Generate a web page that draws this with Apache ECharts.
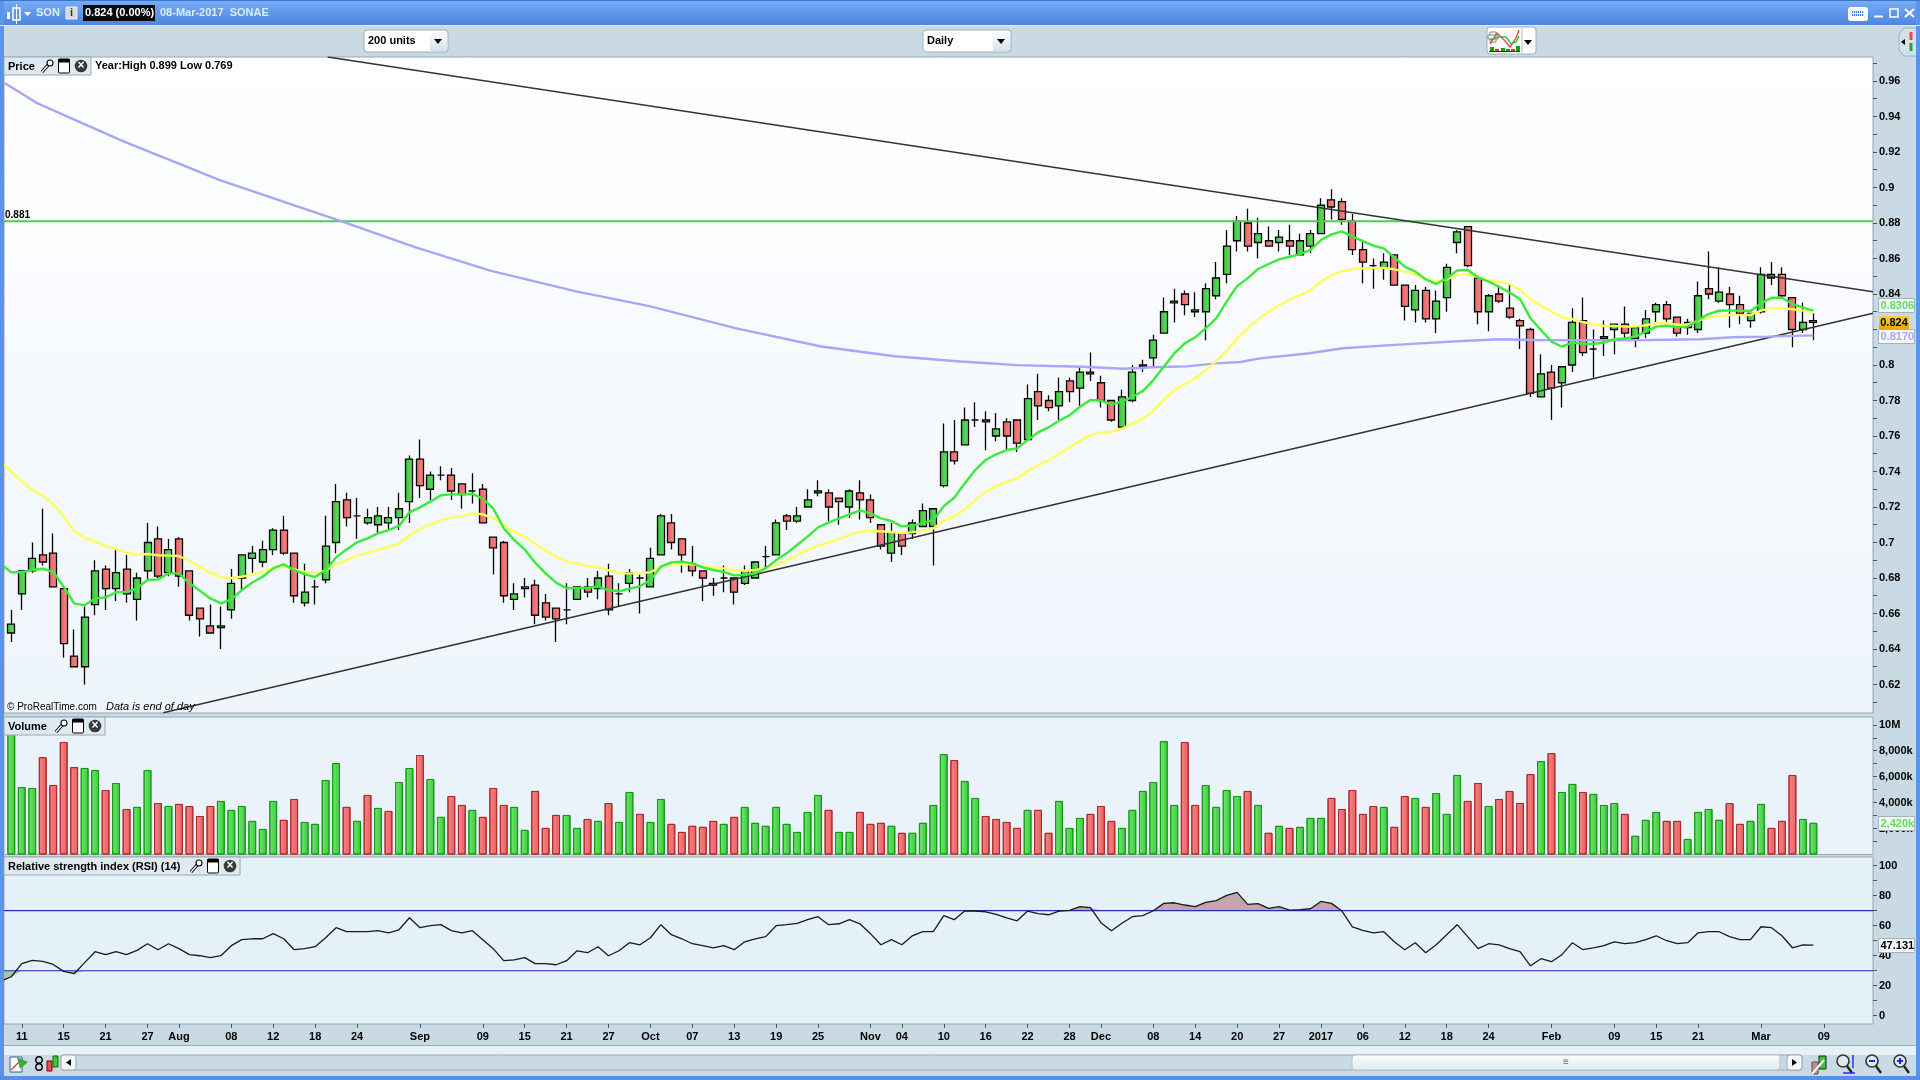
<!DOCTYPE html>
<html><head><meta charset="utf-8"><title>SON SONAE</title>
<style>html,body{margin:0;padding:0;background:#c9dae4}#c{width:1920px;height:1080px}</style>
<script src="https://cdn.jsdelivr.net/npm/echarts@6/dist/echarts.min.js"></script></head>
<body><div id="c"></div>
<script>
const tickIndex=[1,5,9,13,16,21,25,29,33,39,45,49,53,57,61,65,69,73,77,82,85,89,93,97,101,104,109,113,117,121,125,129,133,137,141,147,153,157,161,167,173];
const tickLabels=['11','15','21','27','Aug','08','12','18','24','Sep','09','15','21','27','Oct','07','13','19','25','Nov','04','10','16','22','28','Dec','08','14','20','27','2017','06','12','18','24','Feb','09','15','21','Mar','09'];
const open=[0.649,0.671,0.684,0.693,0.694,0.674,0.636,0.630,0.665,0.685,
0.674,0.685,0.668,0.684,0.702,0.683,0.702,0.684,0.663,0.653,
0.652,0.662,0.680,0.691,0.689,0.696,0.707,0.694,0.666,0.675,
0.679,0.700,0.724,0.715,0.711,0.710,0.711,0.714,0.723,0.747,
0.730,0.738,0.738,0.733,0.729,0.730,0.703,0.700,0.668,0.675,
0.676,0.666,0.663,0.662,0.668,0.675,0.674,0.681,0.671,0.677,
0.680,0.675,0.693,0.711,0.702,0.688,0.684,0.677,0.680,0.680,
0.677,0.680,0.692,0.693,0.715,0.712,0.720,0.728,0.728,0.725,
0.720,0.728,0.724,0.710,0.694,0.705,0.705,0.709,0.709,0.732,
0.751,0.755,0.769,0.769,0.760,0.768,0.769,0.758,0.785,0.780,
0.777,0.791,0.787,0.796,0.790,0.780,0.765,0.780,0.800,0.804,
0.818,0.835,0.840,0.830,0.830,0.839,0.851,0.870,0.880,0.869,
0.870,0.869,0.870,0.862,0.867,0.874,0.893,0.892,0.881,0.865,
0.856,0.855,0.862,0.845,0.831,0.842,0.826,0.838,0.869,0.878,
0.849,0.830,0.840,0.832,0.825,0.820,0.782,0.796,0.790,0.800,
0.825,0.809,0.816,0.820,0.823,0.815,0.818,0.830,0.834,0.827,
0.821,0.820,0.843,0.836,0.840,0.834,0.825,0.830,0.851,0.851,
0.838,0.820,0.825];
const close=[0.654,0.684,0.691,0.689,0.675,0.643,0.630,0.658,0.684,0.674,
0.683,0.671,0.680,0.700,0.681,0.696,0.681,0.659,0.657,0.649,
0.653,0.677,0.693,0.694,0.696,0.707,0.694,0.670,0.672,0.675,
0.698,0.723,0.714,0.715,0.714,0.715,0.714,0.719,0.747,0.732,
0.738,0.738,0.729,0.727,0.729,0.711,0.697,0.670,0.671,0.674,
0.659,0.658,0.657,0.662,0.675,0.672,0.680,0.662,0.671,0.683,
0.680,0.691,0.715,0.700,0.693,0.684,0.680,0.676,0.680,0.672,
0.684,0.689,0.692,0.711,0.712,0.715,0.724,0.729,0.720,0.723,
0.729,0.724,0.714,0.698,0.706,0.698,0.711,0.718,0.719,0.751,
0.746,0.769,0.769,0.768,0.764,0.760,0.756,0.781,0.777,0.776,
0.785,0.785,0.796,0.795,0.780,0.769,0.782,0.796,0.799,0.814,
0.830,0.836,0.834,0.831,0.843,0.849,0.867,0.881,0.867,0.874,
0.867,0.872,0.867,0.870,0.874,0.890,0.889,0.882,0.865,0.858,
0.856,0.858,0.845,0.833,0.842,0.826,0.836,0.855,0.875,0.856,
0.830,0.839,0.836,0.827,0.822,0.784,0.795,0.787,0.799,0.824,
0.807,0.809,0.815,0.823,0.818,0.821,0.826,0.834,0.826,0.818,
0.824,0.839,0.840,0.841,0.834,0.829,0.829,0.851,0.849,0.839,
0.820,0.824,0.824];
const low=[0.644,0.662,0.683,0.687,0.675,0.635,0.630,0.620,0.659,0.662,
0.667,0.666,0.656,0.679,0.680,0.681,0.675,0.656,0.647,0.649,
0.640,0.657,0.673,0.683,0.686,0.693,0.693,0.666,0.664,0.665,
0.677,0.694,0.709,0.702,0.710,0.705,0.707,0.707,0.711,0.725,
0.724,0.735,0.724,0.719,0.722,0.711,0.682,0.666,0.662,0.669,
0.654,0.656,0.644,0.654,0.668,0.669,0.668,0.659,0.664,0.672,
0.660,0.675,0.693,0.696,0.683,0.681,0.667,0.670,0.672,0.665,
0.676,0.680,0.685,0.693,0.707,0.711,0.720,0.726,0.712,0.710,
0.714,0.713,0.711,0.696,0.689,0.693,0.702,0.709,0.687,0.731,
0.744,0.755,0.765,0.752,0.757,0.752,0.751,0.758,0.769,0.774,
0.769,0.779,0.777,0.791,0.776,0.768,0.764,0.779,0.796,0.799,
0.818,0.824,0.828,0.827,0.814,0.837,0.846,0.864,0.864,0.860,
0.867,0.864,0.862,0.862,0.863,0.874,0.882,0.879,0.862,0.846,
0.843,0.848,0.845,0.825,0.824,0.824,0.818,0.830,0.863,0.855,
0.823,0.819,0.835,0.826,0.809,0.782,0.782,0.769,0.776,0.796,
0.805,0.793,0.805,0.806,0.815,0.810,0.815,0.824,0.824,0.816,
0.817,0.818,0.837,0.835,0.821,0.823,0.821,0.829,0.845,0.838,
0.810,0.818,0.814];
const high=[0.662,0.684,0.700,0.719,0.705,0.674,0.651,0.664,0.690,0.687,
0.696,0.693,0.683,0.711,0.709,0.702,0.703,0.684,0.663,0.665,
0.664,0.685,0.693,0.698,0.701,0.708,0.715,0.694,0.688,0.679,
0.715,0.733,0.728,0.725,0.719,0.720,0.720,0.728,0.749,0.758,
0.740,0.743,0.742,0.733,0.739,0.733,0.703,0.701,0.677,0.680,
0.679,0.671,0.663,0.677,0.675,0.680,0.684,0.688,0.677,0.685,
0.682,0.697,0.716,0.716,0.702,0.698,0.684,0.680,0.687,0.680,
0.687,0.689,0.698,0.713,0.716,0.720,0.730,0.735,0.730,0.725,
0.730,0.735,0.727,0.710,0.711,0.705,0.713,0.722,0.719,0.767,
0.769,0.776,0.779,0.774,0.773,0.770,0.769,0.789,0.795,0.783,
0.793,0.793,0.799,0.807,0.794,0.780,0.786,0.800,0.803,0.817,
0.838,0.843,0.842,0.841,0.846,0.858,0.876,0.884,0.888,0.883,
0.878,0.876,0.879,0.874,0.876,0.894,0.899,0.894,0.885,0.870,
0.860,0.863,0.862,0.845,0.845,0.844,0.842,0.857,0.876,0.878,
0.850,0.840,0.845,0.845,0.826,0.821,0.806,0.800,0.799,0.832,
0.838,0.820,0.825,0.823,0.833,0.821,0.831,0.835,0.836,0.827,
0.826,0.847,0.864,0.855,0.844,0.839,0.829,0.855,0.858,0.855,
0.838,0.835,0.829];
// moving averages and RSI: first entry is the point just left of the first bar
const maFast=[0.6879,0.6832,0.6832,0.6845,0.6852,0.6835,0.6751,0.6657,0.6646,0.6685,0.6691,0.6719,0.6721,0.6742,0.6789,0.6792,0.6826,0.6826,0.6770,0.6728,0.6685,0.6657,0.6680,0.6732,0.6775,0.6807,0.6854,0.6877,0.6845,0.6822,0.6805,0.6845,0.6916,0.6961,0.7001,0.7023,0.7051,0.7070,0.7093,0.7170,0.7198,0.7230,0.7266,0.7271,0.7271,0.7275,0.7247,0.7192,0.7080,0.7014,0.6961,0.6886,0.6826,0.6774,0.6742,0.6743,0.6745,0.6751,0.6732,0.6725,0.6740,0.6753,0.6789,0.6864,0.6888,0.6892,0.6882,0.6860,0.6845,0.6834,0.6815,0.6817,0.6826,0.6854,0.6901,0.6939,0.6986,0.7033,0.7085,0.7112,0.7136,0.7159,0.7181,0.7164,0.7136,0.7121,0.7091,0.7095,0.7108,0.7127,0.7205,0.7252,0.7333,0.7408,0.7465,0.7497,0.7521,0.7530,0.7577,0.7620,0.7649,0.7686,0.7716,0.7765,0.7803,0.7799,0.7778,0.7793,0.7821,0.7853,0.7915,0.7990,0.8065,0.8122,0.8156,0.8206,0.8263,0.8357,0.8445,0.8488,0.8541,0.8569,0.8595,0.8610,0.8625,0.8648,0.8704,0.8736,0.8753,0.8723,0.8698,0.8672,0.8657,0.8606,0.8554,0.8526,0.8483,0.8456,0.8488,0.8532,0.8535,0.8494,0.8470,0.8441,0.8408,0.8372,0.8263,0.8197,0.8132,0.8103,0.8128,0.8118,0.8118,0.8126,0.8145,0.8150,0.8160,0.8188,0.8216,0.8222,0.8212,0.8216,0.8254,0.8287,0.8306,0.8308,0.8306,0.8304,0.8347,0.8379,0.8379,0.8344,0.8323,0.8306];
const maSlow=[0.7455,0.7399,0.7343,0.7299,0.7262,0.7217,0.7145,0.7065,0.7027,0.7005,0.6982,0.6963,0.6944,0.6931,0.6935,0.6928,0.6926,0.6924,0.6896,0.6864,0.6830,0.6805,0.6800,0.6807,0.6819,0.6836,0.6858,0.6864,0.6849,0.6836,0.6832,0.6841,0.6877,0.6901,0.6924,0.6943,0.6958,0.6976,0.6993,0.7042,0.7074,0.7102,0.7125,0.7140,0.7149,0.7164,0.7159,0.7136,0.7098,0.7061,0.7033,0.6991,0.6954,0.6920,0.6894,0.6881,0.6866,0.6860,0.6843,0.6826,0.6826,0.6826,0.6832,0.6864,0.6877,0.6879,0.6877,0.6867,0.6860,0.6854,0.6845,0.6841,0.6845,0.6854,0.6873,0.6899,0.6929,0.6958,0.6982,0.6999,0.7020,0.7042,0.7061,0.7065,0.7063,0.7059,0.7053,0.7057,0.7068,0.7080,0.7121,0.7149,0.7187,0.7239,0.7286,0.7318,0.7343,0.7361,0.7403,0.7435,0.7465,0.7498,0.7536,0.7574,0.7605,0.7620,0.7624,0.7641,0.7671,0.7699,0.7743,0.7803,0.7859,0.7893,0.7925,0.7972,0.8022,0.8080,0.8150,0.8206,0.8257,0.8300,0.8338,0.8366,0.8394,0.8422,0.8469,0.8507,0.8529,0.8541,0.8544,0.8546,0.8548,0.8539,0.8526,0.8511,0.8483,0.8470,0.8483,0.8507,0.8513,0.8494,0.8479,0.8470,0.8456,0.8423,0.8370,0.8334,0.8301,0.8269,0.8259,0.8242,0.8229,0.8220,0.8220,0.8216,0.8216,0.8224,0.8235,0.8235,0.8227,0.8227,0.8250,0.8269,0.8276,0.8282,0.8282,0.8282,0.8306,0.8321,0.8321,0.8314,0.8306,0.8299];
const maLongIdx=[-0.6,2.4,10.6,19.9,31.6,38.6,45.7,53.9,60.9,69.1,77.3,84.3,90.6,92.9,96,99.1,102.3,106.1,109,112.2,115,117.3,119.2,123.9,127.1,130.9,134.5,138.9,142.1,145.3,151.6,156.4,161.2,164.3,167.6,172];
const maLongVal=[0.9587,0.9477,0.9263,0.9042,0.8808,0.8663,0.8532,0.8415,0.8332,0.8208,0.8104,0.8049,0.8020,0.8011,0.7999,0.7994,0.7990,0.7979,0.7987,0.7992,0.8009,0.8017,0.8037,0.8066,0.8094,0.8109,0.8122,0.8137,0.8145,0.8141,0.8139,0.8141,0.8145,0.8156,0.8160,0.8167];
const trendUpperIdx=[30.2,177.69], trendUpperVal=[0.9735,0.8413];
const trendLowerIdx=[14.5,177.69], trendLowerVal=[0.6041,0.8291];
const resistance=0.881;
const volume=[9.5,5.2,5.13,7.5,5.36,8.67,6.74,6.67,6.51,4.97,
5.51,3.51,3.67,6.51,3.97,3.74,3.9,3.74,2.97,3.74,
4.13,3.44,3.74,2.59,1.97,4.13,2.67,4.28,2.51,2.36,
5.74,7.05,3.67,2.59,4.59,3.59,3.36,5.59,6.67,7.67,
5.82,2.9,4.51,3.82,3.44,2.9,5.13,3.82,3.67,1.9,
4.9,2.05,3.05,3.05,2.05,2.74,2.59,3.97,2.51,4.82,
3.13,2.51,4.28,2.36,1.74,2.21,2.13,2.59,2.36,2.9,
3.67,2.44,2.21,3.67,2.36,1.74,3.28,4.59,3.44,1.74,
1.74,3.28,2.36,2.44,2.21,1.67,1.67,2.44,3.82,7.74,
7.28,5.67,4.36,2.97,2.74,2.51,2.05,3.44,3.44,1.67,
4.13,2.05,2.82,3.13,3.74,2.59,2.05,3.44,4.9,5.59,
8.74,3.82,8.67,3.82,5.36,3.67,4.97,4.51,4.9,3.82,
1.67,2.21,2.05,2.13,2.82,2.82,4.36,3.51,4.97,3.13,
3.74,3.67,2.13,4.51,4.36,3.67,4.74,3.13,6.13,4.13,
5.51,3.74,4.28,4.9,3.97,6.2,7.2,7.82,4.82,5.44,
4.82,4.67,3.82,3.97,3.13,1.44,2.67,3.28,2.59,2.59,
1.2,3.28,3.51,2.67,3.97,2.36,2.59,3.9,2.05,2.59,
6.13,2.74,2.44];
const volumeDir='GGGRRRRGGRGRGGRGRRRRGGGGGGRRGGGGRGRGRGGRGGRRGRRRGGRRRGGRGRGGRGGRRRRRGRGGGGGGGGRGGRRRGRGGGGRGGRRRRGRRGGGRRRGGGGGGRRGGGGRGRGRGGGRRRRRGRRGRGGGRRGRRRRGRGGRGGGRGGGRRGGGGRRGGRRRGG';
const rsi=[23.1,26.0,34.7,36.9,36.2,34.2,29.6,28.0,35.4,42.7,40.7,42.7,40.7,43.6,48.0,44.0,48.0,44.7,40.7,40.0,38.7,40.0,46.7,50.7,51.3,51.3,54.7,51.3,44.0,44.7,46.0,52.0,58.7,56.0,56.0,56.0,56.7,55.3,57.3,65.3,58.7,60.0,60.7,56.7,55.3,56.7,50.7,44.7,36.7,37.3,38.7,34.7,34.7,34.0,36.7,43.3,42.0,46.0,40.0,43.3,48.7,47.3,52.0,60.7,54.0,51.3,48.0,46.7,45.3,46.7,44.0,49.3,51.3,52.7,60.0,60.7,61.6,64.0,66.0,60.7,61.3,64.0,61.3,54.7,47.3,50.7,47.3,53.3,56.0,56.0,66.7,64.0,69.8,69.8,69.3,67.6,65.3,63.3,69.8,68.0,67.3,69.8,70.2,72.7,72.0,62.0,56.7,61.6,66.0,66.7,70.0,74.9,75.3,73.8,72.7,75.6,76.7,80.2,82.2,74.2,74.7,71.6,72.7,70.4,70.7,71.3,76.2,74.9,69.8,59.3,56.9,55.3,56.0,49.3,44.0,48.7,42.0,47.3,54.0,60.7,52.7,44.7,48.0,47.3,44.7,42.7,33.3,38.0,36.0,40.7,48.7,44.0,45.3,46.7,49.3,48.0,48.7,50.7,53.3,50.0,48.0,48.7,55.3,56.0,56.0,52.7,50.7,50.7,59.3,58.7,53.3,45.3,47.3,47.1];
const priceLabels=[0.62,0.64,0.66,0.68,0.7,0.72,0.74,0.76,0.78,0.8,0.82,0.84,0.86,0.88,0.9,0.92,0.94,0.96];
const priceMinor=[0.61,0.63,0.65,0.67,0.69,0.71,0.73,0.75,0.77,0.79,0.81,0.83,0.85,0.87,0.89,0.91,0.93,0.95,0.97];
const volumeLabels=[2,4,6,8,10], volumeLabelText=['2,000k','4,000k','6,000k','8,000k','10M'], volumeMinor=[1,3,5,7,9];
const rsiLabels=[0,20,40,60,80,100], rsiMinor=[10,30,50,70,90];

const FONT='"Liberation Sans",Arial,sans-serif';
const X0=-0.697,X1=177.69,AX='#4a5660',GRIDLINE='#98a6ae';
const lin=(a,b,h)=>({type:'linear',x:0,y:0,x2:h?1:0,y2:h?0:1,colorStops:[{offset:0,color:a},{offset:1,color:b}]});
const gFill=lin('#39c139','#66e066',true), rFill=lin('#e86060','#f58a8a',true);
const vG=lin('#6cec6c','#40c440',true), vR=lin('#fb8585','#e66060',true);
const byIdx=(arr)=>arr.map((v,i)=>[i-1,v]);
const pair=(a,b)=>a.map((v,i)=>[v,b[i]]);
const grids=[
 {left:4,right:47,top:57,height:656,show:true,borderColor:GRIDLINE,borderWidth:1,backgroundColor:lin('#ffffff','#eef5fb')},
 {left:4,right:47,top:717,height:137.5,show:true,borderColor:GRIDLINE,borderWidth:1,backgroundColor:'#eaf3f9'},
 {left:4,right:47,top:857,height:167,show:true,borderColor:GRIDLINE,borderWidth:1,backgroundColor:'#e5f1f8'}];
const xa=(i,bottom)=>({gridIndex:i,type:'value',position:'bottom',min:X0,max:X1,splitLine:{show:false},axisLine:{show:false,onZero:false},
  axisTick:{show:!!bottom,length:4,lineStyle:{color:AX},customValues:tickIndex},
  axisLabel:{show:!!bottom,customValues:tickIndex,hideOverlap:false,margin:7,color:'#000',fontFamily:FONT,fontWeight:'bold',fontSize:11,
    formatter:(v)=>tickLabels[tickIndex.indexOf(Math.round(v))]}});
const ya=(i,min,max,labels,minor,fmt)=>({gridIndex:i,type:'value',position:'right',min,max,scale:true,splitLine:{show:false},axisLine:{show:false,onZero:false},
  axisTick:{show:true,length:4,lineStyle:{color:AX},customValues:labels.concat(minor)},
  axisLabel:{customValues:labels,margin:6,color:'#000',fontFamily:FONT,fontWeight:'bold',fontSize:11,padding:[2,0,0,0],formatter:fmt}});
const noSym={symbol:'none',silent:true,animation:false};
const option={animation:false,backgroundColor:'#c9dae4',grid:grids,
 xAxis:[xa(0),xa(1),xa(2,true)],
 yAxis:[ya(0,0.60394,0.97352,priceLabels,priceMinor,v=>String(+v.toFixed(2))),
        ya(1,0,10.6,volumeLabels,volumeMinor,v=>volumeLabelText[volumeLabels.indexOf(Math.round(v))]),
        ya(2,-5.5,105.8,rsiLabels,rsiMinor,v=>String(Math.round(v)))],
 series:[
  {type:'candlestick',xAxisIndex:0,yAxisIndex:0,barWidth:7.5,encode:{x:0,y:[1,2,3,4]},silent:true,
   data:open.map((o,i)=>[i,o,close[i],low[i],high[i]]),
   itemStyle:{color:gFill,color0:rFill,borderColor:'#000',borderColor0:'#000',borderColorDoji:'#000',borderWidth:1.3}},
  {type:'line',...noSym,xAxisIndex:0,yAxisIndex:0,data:[[X0,resistance],[X1,resistance]],z:3,lineStyle:{color:'#4fcf4f',width:2}},
  {type:'line',...noSym,xAxisIndex:0,yAxisIndex:0,data:pair(trendUpperIdx,trendUpperVal),z:3,lineStyle:{color:'#333',width:1.5}},
  {type:'line',...noSym,xAxisIndex:0,yAxisIndex:0,data:pair(trendLowerIdx,trendLowerVal),z:3,lineStyle:{color:'#333',width:1.5}},
  {type:'line',...noSym,xAxisIndex:0,yAxisIndex:0,data:pair(maLongIdx,maLongVal),z:4,lineStyle:{color:'#a8a6fb',width:2.4}},
  {type:'line',...noSym,xAxisIndex:0,yAxisIndex:0,data:byIdx(maSlow),z:4,lineStyle:{color:'#ffff5e',width:2.4}},
  {type:'line',...noSym,xAxisIndex:0,yAxisIndex:0,data:byIdx(maFast),z:5,lineStyle:{color:'#3cea3c',width:2.4}},
  {type:'bar',xAxisIndex:1,yAxisIndex:1,barWidth:7.8,silent:true,
   data:volume.map((v,i)=>({value:[i,v],itemStyle:volumeDir[i]==='G'?{color:vG,borderColor:'#169a16',borderWidth:1}:{color:vR,borderColor:'#ac2a2a',borderWidth:1}}))},
  {type:'line',...noSym,xAxisIndex:2,yAxisIndex:2,data:byIdx(rsi).map(p=>[p[0],Math.max(p[1],70)]),lineStyle:{width:0,opacity:0},areaStyle:{origin:70,color:'#c4a6a8',opacity:1},z:2},
  {type:'line',...noSym,xAxisIndex:2,yAxisIndex:2,data:byIdx(rsi).map(p=>[p[0],Math.min(p[1],30)]),lineStyle:{width:0,opacity:0},areaStyle:{origin:30,color:'#a6c8aa',opacity:1},z:2},
  {type:'line',...noSym,xAxisIndex:2,yAxisIndex:2,data:[[X0,70],[X1,70]],z:3,lineStyle:{color:'#2a2ab8',width:1.2}},
  {type:'line',...noSym,xAxisIndex:2,yAxisIndex:2,data:[[X0,30],[X1,30]],z:3,lineStyle:{color:'#2a2ab8',width:1.2}},
  {type:'line',...noSym,xAxisIndex:2,yAxisIndex:2,data:byIdx(rsi),z:4,lineStyle:{color:'#1a1a1a',width:1.3}}
 ]};
const chart=echarts.init(document.getElementById('c'),null,{renderer:'canvas'});
chart.setOption(option);

/* application frame drawn as graphic elements */
const Z=50,els=[];
const R=(x,y,w,h,fill,stroke,r,lw)=>els.push({type:'rect',silent:true,z:Z,shape:{x,y,width:w,height:h,r:r||0},style:{fill:fill||'none',stroke:stroke||'none',lineWidth:lw||1}});
const T=(x,y,text,font,fill,align)=>els.push({type:'text',silent:true,z:Z+2,style:{x,y,text,font:font+' '+FONT,fill:fill||'#000',textAlign:align||'left',textVerticalAlign:'middle'}});
const L=(x1,y1,x2,y2,c,w)=>els.push({type:'line',silent:true,z:Z+1,shape:{x1,y1,x2,y2},style:{stroke:c,lineWidth:w||1}});
const C=(cx,cy,r,fill,stroke,lw)=>els.push({type:'circle',silent:true,z:Z+1,shape:{cx,cy,r},style:{fill:fill||'none',stroke:stroke||'none',lineWidth:lw||1}});
const P=(pts,fill)=>els.push({type:'polygon',silent:true,z:Z+1,shape:{points:pts},style:{fill}});
// outer frame
R(0,0,1920,25,lin('#78adfa','#4d85dc'));L(0,25.5,1920,25.5,'#dbe8f8',1);L(0,0.5,1920,0.5,'#3f73c8',1);
R(0,0,4,1080,'#5b93ea');R(1916,0,4,1080,'#5b93ea');R(0,1076,1920,4,'#5b8fe6');
// title bar
R(7,12,3,7,'#fff');R(13,8,7,12,'none','#fff',0,1.5);L(16.5,4,16.5,24,'#fff',1);
P([[24,12],[31,12],[27.5,16]],'#fff');T(36,13,'SON','bold 11px','#dcebff');
R(66,7,11,12,'#d9d9d9','#eee');T(71.5,13,'i','bold 11px','#333','center');
R(83,5,72,16,'#0a0a0a');T(85,13,'0.824 (0.00%)','bold 11px','#fff');
T(160,13,'08-Mar-2017  SONAE','bold 11px','#dcebff');
R(1848,7,20,14,'#fff',null,3);for(let i=0;i<6;i++){R(1852+i*2,11,1.2,2,'#3b78d8');R(1852+i*2,14,1.2,2,'#3b78d8');}
L(1874,16.5,1883,16.5,'#fff',2);R(1890,9,8,8,'none','#fff',0,1.5);L(1905,9,1914,17,'#fff',2);L(1914,9,1905,17,'#fff',2);
// toolbar
const drop=(x,w,label)=>{R(x,30,w,22,'#fff','#9fb0ba',3);R(x+w-18,31,17,20,lin('#ffffff','#d5e2ea'));P([[x+w-14,39],[x+w-6,39],[x+w-10,44]],'#000');T(x+4,41,label,'bold 11px');};
drop(364,84,'200 units');drop(923,88,'Daily');
R(1487,27,49,27,'#fff','#9fb0ba',3);L(1522,28,1522,53,'#bbb',1);P([[1524,40],[1532,40],[1528,45]],'#000');
els.push({type:'polyline',silent:true,z:Z+1,shape:{points:[[1490,44],[1497,33],[1505,41],[1510,47],[1516,38],[1519,30]]},style:{stroke:'#d85050',fill:'none',lineWidth:1.4}});
els.push({type:'polyline',silent:true,z:Z+1,shape:{points:[[1490,40],[1498,37],[1506,37],[1511,44],[1516,42],[1519,36]]},style:{stroke:'#3fb83f',fill:'none',lineWidth:1.4}});
R(1490,47,4,4,'#0a0');R(1495,49,4,2,'#e33');R(1501,48,4,3,'#0a0');R(1506,49,4,2,'#0a0');R(1511,49,4,2,'#e33');R(1516,46,4,5,'#0a0');L(1489,51.5,1520,51.5,'#22a',1);
R(1490,32,6,10,'#fff','#888');R(1488,35,10,4,'#fff','#888');
els.push({type:'polyline',silent:true,z:Z,shape:{points:[[1916,28],[1904,28],[1899,34],[1899,50],[1904,56],[1916,56]]},style:{stroke:'#9fb0ba',fill:'#d3e1e9',lineWidth:1}});
P([[1901,42],[1905,39],[1905,45]],'#000');L(1911,32,1911,40,'#e24d4d',3);L(1911,43,1911,51,'#2aa52a',3);
// panel header boxes
const wrench=(x,y)=>{L(x-5,y+6,x+2,y-2,'#000',3.4);L(x-5,y+6,x+2,y-2,'#fff',1.4);C(x+3,y-3,3,'#fff','#000',1.1);R(x+3,y-7,4,3,'#e3edf2');};
const win=(x,y)=>{R(x-5.5,y-7,11,14,'#fff','#000',1,1);R(x-5.5,y-7,11,3.5,'#000');};
const cls=(x,y)=>{C(x,y,6.3,'#3a3a3a');T(x,y,'×','bold 12px','#fff','center');};
const hdr=(y,w,label,wx)=>{R(4,y,w,18,'#deeaf0','#9aa9b3');T(8,y+9.5,label,'bold 11px');wrench(wx,y+9);win(wx+17,y+9);cls(wx+34,y+9);};
hdr(57,87,'Price',47);hdr(717,101,'Volume',61);hdr(857,236,'Relative strength index (RSI) (14)',196);
T(95,66,'Year:High 0.899 Low 0.769','bold 11px');
T(5,215,'0.881','bold 10px');
T(7,707,'© ProRealTime.com','10px');T(106,707,'Data is end of day','italic 11px');
// bottom strip
R(4,1045,1912,10,'#e6f0f6');L(4,1045.5,1916,1045.5,'#9aa9b3',1);
R(61,1055,1741,15,'#c9dae4','#9aa9b3',2);
R(61,1055,15,15,'#f4f8fa','#9aa9b3',3);P([[71,1059],[71,1066],[66,1062.5]],'#000');
R(1352,1055,428,15,lin('#fbfdfe','#dfe9ef'),'#b5c3cc',3);T(1566,1062.5,'≡','10px','#667','center');
R(1787,1055,15,15,'#f4f8fa','#9aa9b3',3);P([[1792,1059],[1792,1066],[1797,1062.5]],'#000');
// bottom icons
R(10,1057,12,15,'#fff','#2a5fa8');L(11,1070,22,1059,'#d33',1.3);P([[17,1057],[28,1062],[20,1069]],'#3ca73c');
C(39,1060,3.2,'none','#000',1.4);C(39,1067,3.2,'none','#000',1.4);R(47,1061,5,10,'#e05050','#800');R(53,1056,5,11,'#3fc43f','#070');
R(1812,1062,6,12,'#c88','#555');R(1819,1056,7,13,'#3fc43f','#222');L(1812,1074,1824,1060,'#fff',2);
const glass=(x)=>{C(x,1061,6,'#dfeaf0','#333',1.6);L(x+4,1066,x+9,1073,'#222',2.4);};
glass(1843);L(1853,1055,1853,1068,'#22f',1.4);L(1843,1073,1855,1073,'#22f',1.4);
glass(1872);L(1869,1061,1875,1061,'#22f',2);
glass(1900);L(1897,1061,1903,1061,'#22f',2);L(1900,1058,1900,1064,'#22f',2);
// value tags, placed from the data through the axes
const lastClose=close[close.length-1],lastFast=maFast[maFast.length-1],lastLong=0.817,lastVol=2.42,lastRsi=47.131;
const py=chart.convertToPixel({yAxisIndex:0},lastClose),fy=chart.convertToPixel({yAxisIndex:0},lastFast),
      ly=chart.convertToPixel({yAxisIndex:0},lastLong),vy=chart.convertToPixel({yAxisIndex:1},lastVol),ry=chart.convertToPixel({yAxisIndex:2},lastRsi);
const tag=(y,text,color,font)=>{R(1878.5,Math.round(y-7)+0.5,36,14,'#f3f8fa','#a4b2bb');T(1880.5,y+0.5,text,font||'bold 11px',color);};
tag(fy-5.5,lastFast.toFixed(4),'#5ee05e');
tag(ly+1.5,lastLong.toFixed(4),'#a9a4f4');
R(1879,Math.round(py-6.5),30,13,lin('#f8d23c','#eaa800'));T(1894,py+0.5,lastClose.toFixed(3),'bold 11px','#000','center');
tag(vy,'2,420k','#5ee05e');tag(ry,lastRsi.toFixed(3),'#000');
chart.setOption({graphic:{elements:els}});
</script></body></html>
